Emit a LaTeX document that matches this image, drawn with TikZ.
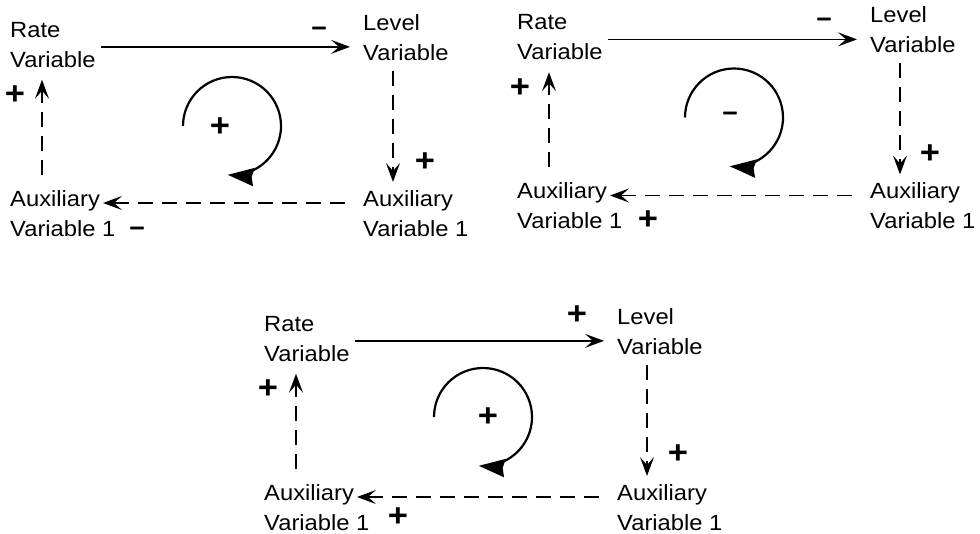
\documentclass[tikz,border=0pt]{standalone}
\usepackage{fontspec}
\setmainfont{Liberation Sans}[FakeStretch=1.08]
\usetikzlibrary{arrows.meta}
\tikzset{
  lbl/.style={anchor=north west, inner sep=0pt, align=left, font=\fontsize{22}{30}\selectfont},
  plussgn/.style={inner sep=0pt, text height=22.6pt, text depth=0pt, font=\fontsize{32}{32}\selectfont\bfseries},
  minussgn/.style={inner sep=0pt, text height=17pt, text depth=0pt, font=\fontsize{24}{24}\selectfont\bfseries\addfontfeature{FakeBold=2}},
  flowarr/.style={line width=1.4pt, -{Stealth[length=19pt,width=14pt,inset=8pt]}},
  infoarr/.style={flowarr, dash pattern=on 15pt off 9pt},
  looparr/.style={line width=2.2pt, -{Stealth[length=26pt,width=18pt,inset=2pt]}},
}
\newcommand{\cldiagram}[4]{%
  \begin{scope}[shift={(#2,#3)}]
    \node[lbl] (#1rate)  at (10,22)   {Rate\\Variable};
    \node[lbl] (#1level) at (363,14)  {Level\\Variable};
    \node[lbl] (#1auxL)  at (10,190)  {Auxiliary\\Variable 1};
    \node[lbl] (#1auxR)  at (363,190) {Auxiliary\\Variable 1};
    \coordinate (#1c) at (#4);
    \draw[flowarr] ([shift={(5,2)}]#1rate.east) -- ([shift={(-13,2)}]#1rate.east -| #1level.west);
    \draw[infoarr] ([shift={(30,10)}]#1level.south west) -- ([shift={(30,-8)}]#1auxR.north west);
    \draw[infoarr] ([shift={(-18,13)}]#1auxR.north west) -- ([shift={(93,13)}]#1auxL.north west);
    \draw[infoarr] ([shift={(32,-15)}]#1auxL.north west) -- ([shift={(32,12)}]#1rate.south west);
    \draw[looparr] ([shift={(-49,0)}]#1c) arc[start angle=180, end angle=455, radius=49];
  \end{scope}}
\begin{document}
\begin{tikzpicture}[x=1pt, y=-1pt]
  \useasboundingbox (0,0) rectangle (980,534);
  \cldiagram{a}{0}{0}{232,126}
  \cldiagram{b}{507}{-7.5}{227,125}
  \cldiagram{c}{254}{294}{229,123}
  % polarity signs, diagram 1
  \node[minussgn] (a1) at (319,26)  {–};
  \node[plussgn]  (a2) at (15,93)   {+};
  \node[plussgn]  (a3) at (425,160) {+};
  \node[minussgn] (a4) at (137,226) {–};
  \node[plussgn]  (a5) at (220,125) {+};
  % diagram 2
  \node[minussgn] (b1) at (824,17)  {–};
  \node[plussgn]  (b2) at (520,86)  {+};
  \node[plussgn]  (b3) at (930,152) {+};
  \node[plussgn]  (b4) at (648,218) {+};
  \node[minussgn] (b5) at (730,111) {–};
  % diagram 3
  \node[plussgn]  (c1) at (577,313) {+};
  \node[plussgn]  (c2) at (268,387) {+};
  \node[plussgn]  (c3) at (678,452) {+};
  \node[plussgn]  (c4) at (398,515) {+};
  \node[plussgn]  (c5) at (488,415) {+};
\end{tikzpicture}
\end{document}
